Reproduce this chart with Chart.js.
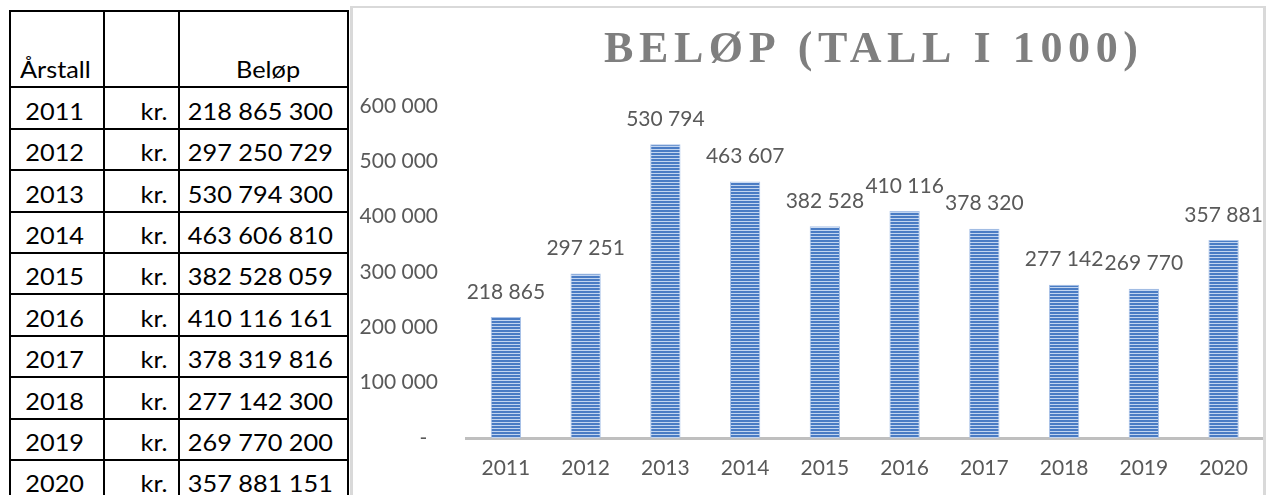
<!DOCTYPE html>
<html>
<head>
<meta charset="utf-8">
<script src="https://cdn.jsdelivr.net/npm/chart.js@4/dist/chart.umd.min.js"></script>
<style>
  html, body { margin:0; padding:0; background:#fff; }
  body { width:1266px; height:495px; position:relative; overflow:hidden; font-family: Lato, "Open Sans", sans-serif; }
  .cell { position:absolute; box-sizing:border-box; border:2px solid #000; display:flex; align-items:flex-end; overflow:hidden; }
  .cell span { display:inline-block; font-size:23px; line-height:23px; color:#000; transform:scaleX(1.1); white-space:nowrap; }
  #panel { position:absolute; left:350px; top:6px; width:916px; height:489px; box-sizing:border-box;
           border-top:2px solid #d9d9d9; border-left:3px solid #d9d9d9; border-right:3px solid #d9d9d9; pointer-events:none; z-index:5; }
  #chartbox { position:absolute; left:352px; top:0; width:914px; height:495px; }
</style>
</head>
<body>
<div id="table"></div>
<div id="chartbox"><canvas id="c" width="914" height="495"></canvas></div>
<div id="panel"></div>
<script>
// ---- Data ----
const years = ['2011','2012','2013','2014','2015','2016','2017','2018','2019','2020'];
const amounts = [218865300, 297250729, 530794300, 463606810, 382528059, 410116161, 378319816, 277142300, 269770200, 357881151];
const valuesThousands = [218865, 297251, 530794, 463607, 382528, 410116, 378320, 277142, 269770, 357881];
const yTicks = [0, 100000, 200000, 300000, 400000, 500000, 600000];
const yTickLabels = ['-', '100 000', '200 000', '300 000', '400 000', '500 000', '600 000'];
const tableHeaders = ['Årstall', '', 'Beløp'];
const currencyLabel = 'kr.';
const chartTitle = 'BELØP (TALL I 1000)';

function fmt(n) { return String(n).replace(/\B(?=(\d{3})+(?!\d))/g, ' '); }

// ---- Table (HTML) ----
(function buildTable(){
  const t = document.getElementById('table');
  const colX = [10, 104, 179, 348];
  const headTop = 11, headBottom = 87.3, rowH = 41.4;
  function cell(x0, x1, y0, y1, text, align, padL, padR, padB) {
    x0 = Math.round(x0); x1 = Math.round(x1); y0 = Math.round(y0); y1 = Math.round(y1);
    const d = document.createElement('div');
    d.className = 'cell';
    d.style.left = (x0 - 1) + 'px';
    d.style.top = (y0 - 1) + 'px';
    d.style.width = (x1 - x0 + 2) + 'px';
    d.style.height = (y1 - y0 + 2) + 'px';
    d.style.justifyContent = align === 'left' ? 'flex-start' : align === 'right' ? 'flex-end' : 'center';
    d.style.paddingLeft = padL + 'px';
    d.style.paddingRight = padR + 'px';
    d.style.paddingBottom = padB + 'px';
    if (text) {
      const s = document.createElement('span');
      s.textContent = text;
      s.style.transformOrigin = align === 'left' ? 'left center' : align === 'right' ? 'right center' : 'center center';
      d.appendChild(s);
    }
    t.appendChild(d);
  }
  cell(colX[0], colX[1], headTop, headBottom, tableHeaders[0], 'left', 9, 0, 5);
  cell(colX[1], colX[2], headTop, headBottom, tableHeaders[1], 'right', 0, 0, 5);
  cell(colX[2], colX[3], headTop, headBottom, tableHeaders[2], 'center', 10, 0, 5);
  years.forEach((y, i) => {
    const y0 = headBottom + i * rowH, y1 = y0 + rowH;
    cell(colX[0], colX[1], y0, y1, y, 'center', 0, 4, 5);
    cell(colX[1], colX[2], y0, y1, currencyLabel, 'right', 0, 10, 5);
    cell(colX[2], colX[3], y0, y1, fmt(amounts[i]), 'right', 0, 14, 5);
  });
})();

// ---- Chart ----
const canvas = document.getElementById('c');
const ctx = canvas.getContext('2d');

function stripePattern() {
  const pc = document.createElement('canvas');
  pc.width = 4; pc.height = 3;
  const g = pc.getContext('2d');
  g.fillStyle = '#4a7cc4'; g.fillRect(0, 0, 4, 3);
  g.fillStyle = '#c2d5f0'; g.fillRect(0, 2, 4, 1);
  return ctx.createPattern(pc, 'repeat');
}

const textColor = '#595959';
const chartFont = 'Lato';

const titlePlugin = {
  id: 'spacedTitle',
  afterDraw(chart) {
    const c = chart.ctx;
    c.save();
    c.font = 'bold 44px "Liberation Serif", "Times New Roman", serif';
    c.fillStyle = '#7f7f7f';
    c.textAlign = 'left';
    c.textBaseline = 'alphabetic';
    const spacing = 5.6;
    const x0 = 252, y0 = 62;
    if ('letterSpacing' in c) {
      c.letterSpacing = spacing + 'px';
      c.fillText(chartTitle, x0, y0);
    } else {
      let x = x0;
      for (const ch of chartTitle) { c.fillText(ch, x, y0); x += c.measureText(ch).width + spacing; }
    }
    c.restore();
  }
};

const dataLabelPlugin = {
  id: 'barLabels',
  afterDatasetsDraw(chart) {
    const c = chart.ctx;
    const meta = chart.getDatasetMeta(0);
    c.save();
    c.font = '21px ' + chartFont;
    c.fillStyle = textColor;
    c.textAlign = 'center';
    c.textBaseline = 'middle';
    meta.data.forEach((bar, i) => {
      c.fillText(fmt(chart.data.datasets[0].data[i]), bar.x, bar.y - 25);
    });
    c.restore();
  }
};

new Chart(ctx, {
  type: 'bar',
  data: {
    labels: years,
    datasets: [{
      data: valuesThousands,
      backgroundColor: stripePattern(),
      borderColor: '#a9c2e8',
      borderWidth: { left: 1, right: 1, top: 1, bottom: 0 },
      borderSkipped: 'start',
      barPercentage: 0.38,
      categoryPercentage: 1.0
    }]
  },
  options: {
    responsive: false,
    devicePixelRatio: 1,
    animation: false,
    events: [],
    layout: { padding: { top: 106, left: 0, right: 1, bottom: 15 } },
    plugins: { legend: { display: false }, title: { display: false }, tooltip: { enabled: false } },
    scales: {
      x: {
        afterFit(scale) { scale.height = 42; },
        grid: { display: false, drawTicks: false },
        border: { display: true, color: '#bfbfbf', width: 3 },
        ticks: { color: textColor, font: { family: chartFont, size: 21 }, padding: 18, maxRotation: 0 }
      },
      y: {
        min: 0, max: 600000,
        afterBuildTicks(scale) { scale.ticks = yTicks.map(v => ({ value: v })); },
        afterFit(scale) { scale.width = 114; },
        grid: { display: false, drawTicks: false },
        border: { display: false },
        ticks: {
          color: textColor, font: { family: chartFont, size: 21 }, padding: 28,
          callback(value, index) { const l = yTickLabels[index]; return l === '-' ? '-  ' : l; }
        }
      }
    }
  },
  plugins: [titlePlugin, dataLabelPlugin]
});
</script>
</body>
</html>
